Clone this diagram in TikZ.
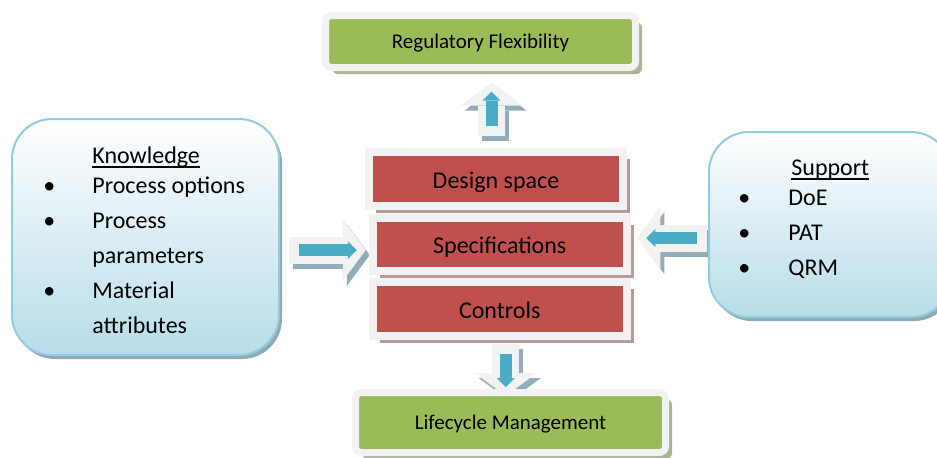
\documentclass[tikz,border=0pt]{standalone}
\usepackage{fontspec}
\setmainfont{Carlito}
\usepackage{tikz}
\usetikzlibrary{arrows.meta, shadows, backgrounds, calc}
\usetikzlibrary{positioning}
\usepackage{xcolor}

\definecolor{boxgreen}{HTML}{9BBB59}
\definecolor{boxred}{HTML}{C0504D}
\definecolor{arrowblue}{HTML}{4BACC6}
\definecolor{framegray}{HTML}{F2F2F2}
\definecolor{greenshade}{HTML}{A9B596}
\definecolor{redshade}{HTML}{B89B9B}
\definecolor{arrowshade}{HTML}{93ADB8}
\definecolor{infoline}{HTML}{93CDDD}
\definecolor{infofill}{HTML}{B7DDE8}
\definecolor{infoshade}{HTML}{8FAAB3}

% underlined heading, rule crossing the descenders
\newcommand{\ulword}[1]{\setbox0=\hbox{#1}\rlap{\rule[-2.3pt]{\wd0}{0.8pt}}\box0}

\tikzset{
	greenbox/.style={draw=framegray, line width=3.5pt, fill=boxgreen, rounded corners=3pt,
		minimum width=155pt, inner sep=0pt, text height=7pt, text depth=0.2pt,
		font=\fontsize{10.5}{12}\selectfont,
		drop shadow={shadow xshift=3.25pt, shadow yshift=-3.25pt, fill=greenshade, opacity=1}},
	redbox/.style={draw=framegray, line width=4pt, fill=boxred, minimum width=127pt,
		minimum height=26.75pt, inner sep=0pt, text height=10pt, text depth=0.3pt,
		font=\fontsize{12}{14}\selectfont,
		drop shadow={shadow xshift=3.5pt, shadow yshift=-3.5pt, fill=redshade, opacity=1}},
	infobox/.style={draw=infoline, line width=1pt, rounded corners=20pt, top color=white,
		bottom color=infofill, inner sep=0pt,
		drop shadow={shadow xshift=1.5pt, shadow yshift=-2pt, fill=infoshade, opacity=1}},
	listtext/.style={anchor=base west, inner sep=0pt, font=\fontsize{12}{17.5}\selectfont},
	arrowbody/.style={draw=framegray, line width=13.5pt,
		-{Triangle[width=31pt, length=11.5pt, line width=0pt]}},
	arrowcore/.style={draw=arrowblue, line width=6pt, shorten <=5pt, shorten >=4.5pt,
		-{Triangle[width=9pt, length=4.5pt, line width=0pt]}}
}

\begin{document}
\begin{tikzpicture}[x=0.5pt, y=-0.5pt]
			\useasboundingbox (0,0) rectangle (937,457);
			\clip (0,0) rectangle (937,457);

			% outcome boxes
			\node[greenbox, minimum height=26pt] (reg) at (480.5,41.5) {Regulatory Flexibility};
			\node[greenbox, minimum height=30pt] (life) at (510.5,422.5) {Lifecycle Management};

			% central stack
			\node[redbox] (design) at (496,179) {Design space};
			\node[redbox] (spec) at (499.75,244.25) {Specifications};
			\node[redbox] (ctrl) at (499.75,308.75) {Controls};

			% inputs
			\node[infobox, minimum width=133.5pt, minimum height=118pt] (know) at (145.5,237) {};
			\node[infobox, minimum width=121pt, minimum height=92.5pt] (supp) at (830,224.5) {};

			\node[listtext] (knowList) at (43,163) {\begin{tabular}[t]{@{}p{24.5pt}@{}l@{}}
					& \ulword{Knowledge}\\[-2.5pt]
					\textbullet & Process options\\
					\textbullet & Process\\
					& parameters\\
					\textbullet & Material\\
					& attributes
				\end{tabular}};
			\node[listtext] (suppList) at (738,175) {\begin{tabular}[t]{@{}p{25pt}@{}l@{}}
					& \hspace{1.5pt}\ulword{Support}\\[-2.5pt]
					\textbullet & DoE\\
					\textbullet & PAT\\
					\textbullet & QRM
				\end{tabular}};

			% block arrows
			\coordinate (upS) at ($(design.north)+(-4.5,-12)$);
			\coordinate (upT) at ($(upS |- reg.south)+(0,11.5)$);
			\coordinate (dnS) at ($(ctrl.south)+(6,4)$);
			\coordinate (dnT) at ($(dnS |- life.north)+(0,7)$);
			\coordinate (knS) at ($(know.east)+(9,13)$);
			\coordinate (knT) at ($(knS -| spec.west)+(-3,0)$);
			\coordinate (spS) at ($(supp.west)+(-1,13.5)$);
			\coordinate (spT) at ($(spS -| spec.east)+(6.5,0)$);

			\begin{scope}[on background layer]
				\foreach \s/\t in {upS/upT, dnS/dnT, knS/knT, spS/spT} {
					\draw[arrowbody, draw=arrowshade, transform canvas={shift={(2pt,-2.5pt)}}] (\s) -- (\t);
					\draw[arrowbody] (\s) -- (\t);
					\draw[arrowcore] (\s) -- (\t);
				}
			\end{scope}
		\end{tikzpicture}
\end{document}
